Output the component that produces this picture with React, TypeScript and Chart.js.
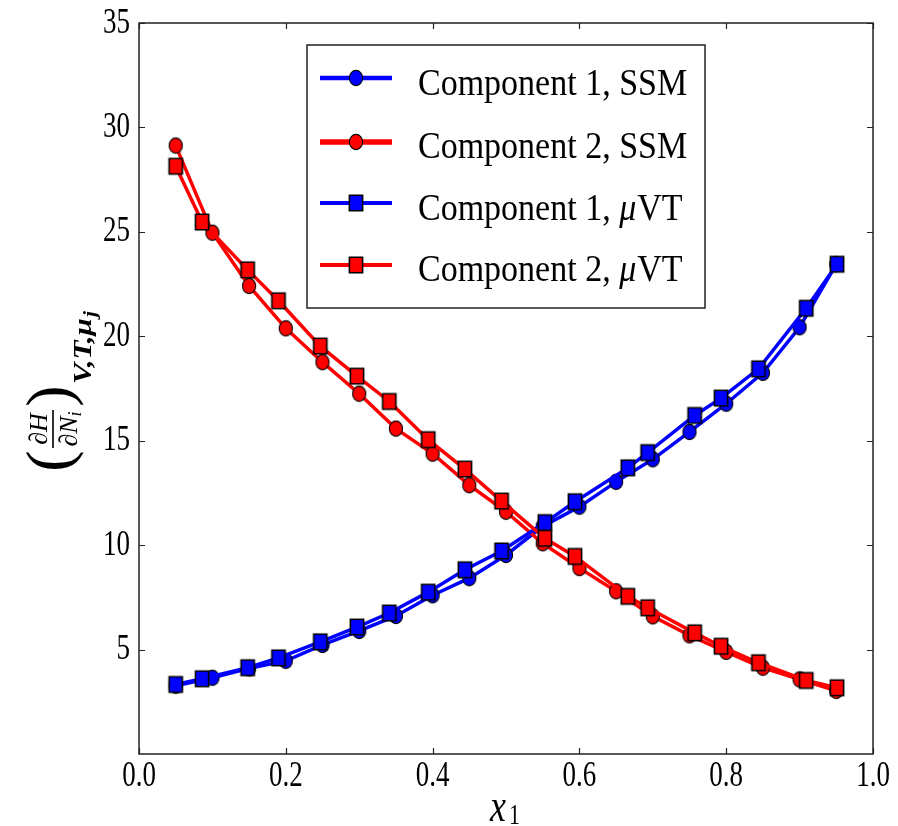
import React, { useEffect, useRef } from "react";
import { Chart, registerables } from "chart.js";

Chart.register(...registerables);

// Mole fraction grid of the SSM results
const X_SSM = [0.05, 0.1, 0.15, 0.2, 0.25, 0.3, 0.35, 0.4, 0.45, 0.5, 0.55, 0.6, 0.65, 0.7, 0.75, 0.8, 0.85, 0.9, 0.95];
const COMP1_SSM = [3.27, 3.65, 4.1, 4.46, 5.22, 5.89, 6.61, 7.6, 8.42, 9.53, 10.9, 11.84, 13.03, 14.11, 15.42, 16.77, 18.25, 20.43, 23.45];
const COMP2_SSM = [29.13, 24.96, 22.41, 20.38, 18.76, 17.25, 15.58, 14.38, 12.87, 11.6, 10.09, 8.9, 7.79, 6.59, 5.68, 4.89, 4.13, 3.57, 3.02];

// Mole fractions reached in the grand-canonical (muVT) runs
const X_MUVT = [0.05, 0.086, 0.148, 0.19, 0.247, 0.297, 0.341, 0.394, 0.444, 0.494, 0.553, 0.594, 0.666, 0.693, 0.757, 0.793, 0.844, 0.909, 0.951];
const COMP1_MUVT = [3.33, 3.6, 4.13, 4.6, 5.37, 6.08, 6.75, 7.75, 8.82, 9.72, 11.08, 12.08, 13.7, 14.43, 16.21, 17.04, 18.44, 21.34, 23.45];
const COMP2_MUVT = [28.14, 25.47, 23.18, 21.7, 19.53, 18.09, 16.88, 15.05, 13.64, 12.11, 10.33, 9.46, 7.55, 7.0, 5.8, 5.16, 4.37, 3.52, 3.17];

const X_TICKS = [0, 0.2, 0.4, 0.6, 0.8, 1.0];
const X_TICK_LABELS = ["0.0", "0.2", "0.4", "0.6", "0.8", "1.0"];
const Y_TICKS = [5, 10, 15, 20, 25, 30, 35];
const Y_TICK_LABELS = ["5", "10", "15", "20", "25", "30", "35"];

const SERIES_NAMES = ["Component 1, SSM", "Component 2, SSM", "Component 1, ", "Component 2, "];

const BLUE = "#0000ff";
const RED = "#ff0000";
const SERIF = "'Liberation Serif', 'Times New Roman', serif";

function markerCanvas(shape: "circle" | "square", fill: string): HTMLCanvasElement {
  const w = 18;
  const h = 20;
  const c = document.createElement("canvas");
  c.width = w;
  c.height = h;
  const g = c.getContext("2d")!;
  g.fillStyle = fill;
  g.strokeStyle = "#000";
  g.lineWidth = shape === "square" ? 1.6 : 1.1;
  g.beginPath();
  if (shape === "circle") g.ellipse(w / 2, h / 2, 6.6, 7.6, 0, 0, Math.PI * 2);
  else g.rect(w / 2 - 6.6, h / 2 - 7.8, 13.2, 15.6);
  g.fill();
  g.stroke();
  return c;
}

function text(
  ctx: CanvasRenderingContext2D,
  s: string,
  x: number,
  y: number,
  font: string,
  align: CanvasTextAlign = "left",
  baseline: CanvasTextBaseline = "alphabetic",
  sy = 1,
  sx = 1
) {
  ctx.save();
  ctx.translate(x, y);
  ctx.scale(sx, sy);
  ctx.font = font;
  ctx.textAlign = align;
  ctx.textBaseline = baseline;
  ctx.fillStyle = "#000";
  ctx.fillText(s, 0, 0);
  ctx.restore();
}

const pairs = (xs: number[], ys: number[]) => xs.map((x, i) => ({ x, y: ys[i] }));

const framePlugin = {
  id: "frameAndLabels",
  afterDraw(chart: any) {
    const ctx: CanvasRenderingContext2D = chart.ctx;
    const { left, right, top, bottom } = chart.chartArea;
    const xs = chart.scales.x;
    const ys = chart.scales.y;

    ctx.save();
    // axes frame
    ctx.strokeStyle = "#222";
    ctx.lineWidth = 1.5;
    ctx.strokeRect(left, top, right - left, bottom - top);

    // inward ticks on all four sides
    ctx.lineWidth = 1.2;
    ctx.beginPath();
    X_TICKS.forEach((v) => {
      const px = Math.round(xs.getPixelForValue(v)) + 0.5;
      ctx.moveTo(px, bottom);
      ctx.lineTo(px, bottom - 6);
      ctx.moveTo(px, top);
      ctx.lineTo(px, top + 6);
    });
    Y_TICKS.forEach((v) => {
      const py = Math.round(ys.getPixelForValue(v)) + 0.5;
      ctx.moveTo(left, py);
      ctx.lineTo(left + 6, py);
      ctx.moveTo(right, py);
      ctx.lineTo(right - 6, py);
    });
    ctx.stroke();

    // tick labels
    const tickFont = `27px ${SERIF}`;
    X_TICKS.forEach((v, i) => {
      text(ctx, X_TICK_LABELS[i], xs.getPixelForValue(v), bottom + 22, tickFont, "center", "middle", 1.35);
    });
    Y_TICKS.forEach((v, i) => {
      text(ctx, Y_TICK_LABELS[i], left - 9, ys.getPixelForValue(v), tickFont, "right", "middle", 1.35);
    });

    // x axis title: x_1
    text(ctx, "x", 490, 821, `italic 36px ${SERIF}`, "left", "alphabetic", 1.3);
    text(ctx, "1", 509, 824, `22px ${SERIF}`, "left", "alphabetic", 1.3);

    // y axis title: (dH/dN_i)_{V,T,mu_j}
    ctx.save();
    ctx.translate(53, 430);
    ctx.rotate(-Math.PI / 2);
    text(ctx, "(", -31, 0, `64px ${SERIF}`, "center", "middle");
    text(ctx, ")", 34, 0, `64px ${SERIF}`, "center", "middle");
    ctx.fillStyle = "#000";
    ctx.fillRect(-18, -0.8, 38, 1.6);
    text(ctx, "\u2202H", 1, -6, `italic 26px ${SERIF}`, "center", "alphabetic");
    ctx.font = `italic 26px ${SERIF}`;
    const wN = ctx.measureText("\u2202N").width;
    ctx.font = `italic 18px ${SERIF}`;
    const wi = ctx.measureText("i").width;
    const startN = 1 - (wN + wi) / 2;
    text(ctx, "\u2202N", startN, 24, `italic 26px ${SERIF}`, "left", "alphabetic");
    text(ctx, "i", startN + wN, 28, `italic 18px ${SERIF}`, "left", "alphabetic");
    const subStretch = 1.2;
    ctx.font = `bold italic 26px ${SERIF}`;
    const wSub = ctx.measureText("V,T,\u03bc").width * subStretch;
    text(ctx, "V,T,\u03bc", 46, 38, `bold italic 26px ${SERIF}`, "left", "alphabetic", 1, subStretch);
    text(ctx, "j", 46 + wSub + 1, 43, `bold italic 18px ${SERIF}`, "left", "alphabetic", 1, subStretch);
    ctx.restore();

    // legend
    const bx = 307, by = 45, bw = 398, bh = 263;
    ctx.fillStyle = "#fff";
    ctx.fillRect(bx, by, bw, bh);
    ctx.strokeStyle = "#222";
    ctx.lineWidth = 1.5;
    ctx.strokeRect(bx, by, bw, bh);

    const rows = [
      { c: BLUE, shape: "circle", lw: 4.5, cy: 78, base: 95, muVT: false },
      { c: RED, shape: "circle", lw: 5.5, cy: 142, base: 158, muVT: false },
      { c: BLUE, shape: "square", lw: 4, cy: 203, base: 220, muVT: true },
      { c: RED, shape: "square", lw: 4, cy: 265, base: 281, muVT: true },
    ];
    const legFont = `34px ${SERIF}`;
    rows.forEach((r, i) => {
      ctx.strokeStyle = r.c;
      ctx.lineWidth = r.lw;
      ctx.beginPath();
      ctx.moveTo(320, r.cy);
      ctx.lineTo(392, r.cy);
      ctx.stroke();
      ctx.fillStyle = r.c;
      ctx.strokeStyle = "#000";
      ctx.lineWidth = r.shape === "square" ? 1.6 : 1.1;
      ctx.beginPath();
      if (r.shape === "circle") ctx.ellipse(356, r.cy, 6.6, 7.6, 0, 0, Math.PI * 2);
      else ctx.rect(356 - 6.6, r.cy - 7.8, 13.2, 15.6);
      ctx.fill();
      ctx.stroke();

      const label = SERIES_NAMES[i];
      text(ctx, label, 418, r.base, legFont, "left", "alphabetic", 1.12);
      if (r.muVT) {
        ctx.font = legFont;
        const w = ctx.measureText(label).width;
        ctx.font = `italic 34px ${SERIF}`;
        const wm = ctx.measureText("\u03bc").width;
        text(ctx, "\u03bc", 418 + w, r.base, `italic 34px ${SERIF}`, "left", "alphabetic", 1.12);
        text(ctx, "VT", 418 + w + wm + 1, r.base, legFont, "left", "alphabetic", 1.12);
      }
    });
    ctx.restore();
  },
};

export default function App() {
  const ref = useRef<HTMLCanvasElement | null>(null);

  useEffect(() => {
    document.body.style.margin = "0";
    const canvas = ref.current;
    if (!canvas) return;

    const lineW = 3.5;
    const chart = new Chart(canvas, {
      type: "line",
      data: {
        datasets: [
          {
            label: "Component 1, SSM",
            data: pairs(X_SSM, COMP1_SSM),
            borderColor: BLUE,
            borderWidth: lineW,
            pointStyle: markerCanvas("circle", BLUE) as any,
            pointRadius: 7,
            order: 4,
          },
          {
            label: "Component 2, SSM",
            data: pairs(X_SSM, COMP2_SSM),
            borderColor: RED,
            borderWidth: lineW,
            pointStyle: markerCanvas("circle", RED) as any,
            pointRadius: 7,
            order: 3,
          },
          {
            label: "Component 1, \u03bcVT",
            data: pairs(X_MUVT, COMP1_MUVT),
            borderColor: BLUE,
            borderWidth: lineW,
            pointStyle: markerCanvas("square", BLUE) as any,
            pointRadius: 7,
            order: 2,
          },
          {
            label: "Component 2, \u03bcVT",
            data: pairs(X_MUVT, COMP2_MUVT),
            borderColor: RED,
            borderWidth: lineW,
            pointStyle: markerCanvas("square", RED) as any,
            pointRadius: 7,
            order: 1,
          },
        ],
      },
      options: {
        responsive: false,
        animation: false,
        devicePixelRatio: 1,
        layout: { padding: { top: 23, right: 25, left: 0, bottom: 0 } },
        plugins: {
          legend: { display: false },
          tooltip: { enabled: false },
          title: { display: false },
        },
        elements: { line: { tension: 0 } },
        scales: {
          x: {
            type: "linear",
            min: 0,
            max: 1,
            grid: { display: false, drawTicks: false },
            border: { display: false },
            ticks: { display: false, stepSize: 0.2 },
            afterFit: (s: any) => {
              s.height = 72;
            },
          },
          y: {
            type: "linear",
            min: 0,
            max: 35,
            grid: { display: false, drawTicks: false },
            border: { display: false },
            ticks: { display: false, stepSize: 5 },
            afterFit: (s: any) => {
              s.width = 139;
            },
          },
        },
      },
      plugins: [framePlugin],
    });

    return () => chart.destroy();
  }, []);

  return (
    <div style={{ position: "fixed", left: 0, top: 0, width: 898, height: 826, background: "#fff" }}>
      <canvas ref={ref} width={898} height={826} style={{ display: "block" }} />
    </div>
  );
}
